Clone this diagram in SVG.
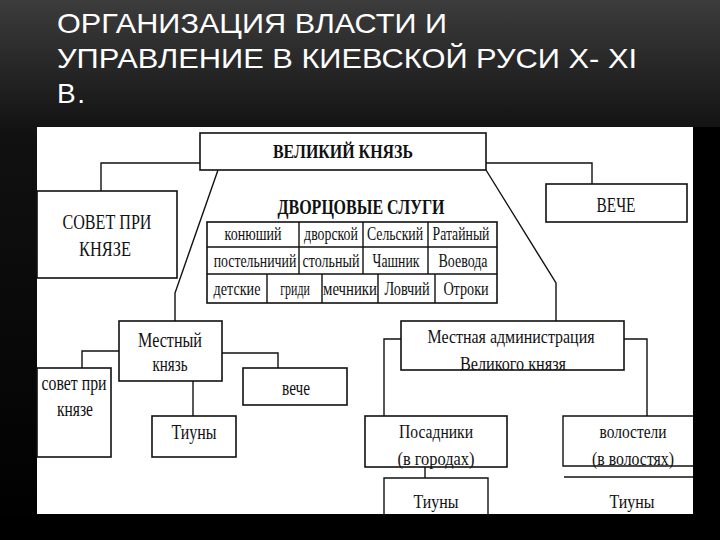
<svg xmlns="http://www.w3.org/2000/svg" width="720" height="540" viewBox="0 0 720 540">
<defs>
<linearGradient id="bg" x1="0" y1="0" x2="0" y2="1">
<stop offset="0" stop-color="#3c3c3c"/>
<stop offset="0.25" stop-color="#111"/>
<stop offset="1" stop-color="#000"/>
</linearGradient>
</defs>
<style>
.title{font-family:"Liberation Sans",Arial,sans-serif;font-size:28px;fill:#fff}
.box{fill:#fff;stroke:#111;stroke-width:1.6}
.ln{fill:none;stroke:#111;stroke-width:1.4}
.t{font-family:"Liberation Serif","Times New Roman",serif;fill:#111;text-anchor:middle}
.b{font-weight:bold}
.s21{font-size:21px}
.s20{font-size:20px}
.s19{font-size:19px}
.s18{font-size:18px}
</style>
<rect x="0" y="0" width="720" height="540" fill="url(#bg)"/>
<g id="title">
<text class="title" x="57" y="33" textLength="390" lengthAdjust="spacingAndGlyphs">ОРГАНИЗАЦИЯ ВЛАСТИ И</text>
<text class="title" x="57" y="68" textLength="580" lengthAdjust="spacingAndGlyphs">УПРАВЛЕНИЕ В КИЕВСКОЙ РУСИ X- XI</text>
<text class="title" x="57" y="103" textLength="28" lengthAdjust="spacing">В.</text>
</g>
<rect id="panel" x="37" y="127" width="656" height="387" fill="#fff"/>
<g id="connectors">
<polyline class="ln" points="200,163 101,163 101,191"/>
<polyline class="ln" points="218,170 175,293 175,321"/>
<polyline class="ln" points="486,163 592,163 592,184"/>
<polyline class="ln" points="486,170 556,283 556,321"/>
<polyline class="ln" points="119,351 82,351 82,368"/>
<polyline class="ln" points="222,353 278,353 278,368"/>
<polyline class="ln" points="193,381 193,416"/>
<polyline class="ln" points="401,339 384,339 384,416"/>
<polyline class="ln" points="624,339 647,339 647,416"/>
<polyline class="ln" points="425,467 425,478"/>
</g>
<g id="velikiy-knyaz">
<rect class="box" x="200" y="133" width="286" height="37" stroke-width="2.4"/>
<text class="t b s18" x="343" y="158" textLength="140" lengthAdjust="spacingAndGlyphs">ВЕЛИКИЙ КНЯЗЬ</text>
</g>
<g id="sovet">
<rect class="box" x="37" y="191" width="140" height="87"/>
<text class="t s21" x="107" y="229" textLength="89" lengthAdjust="spacingAndGlyphs">СОВЕТ ПРИ</text>
<text class="t s21" x="105" y="256" textLength="52" lengthAdjust="spacingAndGlyphs">КНЯЗЕ</text>
</g>
<g id="veche">
<rect class="box" x="546" y="184" width="141" height="38"/>
<text class="t s20" x="616" y="212" textLength="39" lengthAdjust="spacingAndGlyphs">ВЕЧЕ</text>
</g>
<g id="dvortsovye-slugi">
<text class="t b s20" x="361" y="214" textLength="167" lengthAdjust="spacingAndGlyphs">ДВОРЦОВЫЕ СЛУГИ</text>
<rect class="box" x="207" y="222" width="290" height="81"/>
<path class="ln" d="M207 247H497M207 274H497M299 222V274M363 222V274M428 222V274M267 274V303M322 274V303M378 274V303M435 274V303"/>
<text class="t s18" transform="translate(253,240) scale(0.78,1)" textLength="73" lengthAdjust="spacingAndGlyphs">конюший</text>
<text class="t s18" transform="translate(331,240) scale(0.78,1)" textLength="69" lengthAdjust="spacingAndGlyphs">дворской</text>
<text class="t s18" transform="translate(395,240) scale(0.78,1)" textLength="72" lengthAdjust="spacingAndGlyphs">Сельский</text>
<text class="t s18" transform="translate(461,240) scale(0.78,1)" textLength="73" lengthAdjust="spacingAndGlyphs">Ратайный</text>
<text class="t s18" transform="translate(255,267) scale(0.78,1)" textLength="106" lengthAdjust="spacingAndGlyphs">постельничий</text>
<text class="t s18" transform="translate(331,267) scale(0.78,1)" textLength="73" lengthAdjust="spacingAndGlyphs">стольный</text>
<text class="t s18" transform="translate(396,267) scale(0.78,1)" textLength="60" lengthAdjust="spacingAndGlyphs">Чашник</text>
<text class="t s18" transform="translate(463,267) scale(0.78,1)" textLength="63" lengthAdjust="spacingAndGlyphs">Воевода</text>
<text class="t s18" transform="translate(237,295) scale(0.78,1)" textLength="60" lengthAdjust="spacingAndGlyphs">детские</text>
<text class="t s18" transform="translate(295,295) scale(0.78,1)" textLength="38" lengthAdjust="spacingAndGlyphs">гриди</text>
<text class="t s18" transform="translate(350,295) scale(0.78,1)" textLength="69" lengthAdjust="spacingAndGlyphs">мечники</text>
<text class="t s18" transform="translate(407,295) scale(0.78,1)" textLength="58" lengthAdjust="spacingAndGlyphs">Ловчий</text>
<text class="t s18" transform="translate(466,295) scale(0.78,1)" textLength="58" lengthAdjust="spacingAndGlyphs">Отроки</text>
</g>
<g id="mestnyy-knyaz">
<rect class="box" x="119" y="321" width="103" height="60"/>
<text class="t s21" x="170" y="347" textLength="64" lengthAdjust="spacingAndGlyphs">Местный</text>
<text class="t s21" x="170" y="371" textLength="35" lengthAdjust="spacingAndGlyphs">князь</text>
</g>
<g id="sovet-mestnyy">
<rect class="box" x="37" y="368" width="74" height="89"/>
<text class="t s20" x="74" y="390" textLength="65" lengthAdjust="spacingAndGlyphs">совет при</text>
<text class="t s20" x="75" y="416" textLength="36" lengthAdjust="spacingAndGlyphs">князе</text>
</g>
<g id="veche-mestnoe">
<rect class="box" x="243" y="368" width="104" height="37"/>
<text class="t s20" x="296" y="395" textLength="28" lengthAdjust="spacingAndGlyphs">вече</text>
</g>
<g id="tiuny-mestnye">
<rect class="box" x="152" y="416" width="84" height="41"/>
<text class="t s20" x="194" y="439" textLength="45" lengthAdjust="spacingAndGlyphs">Тиуны</text>
</g>
<g id="mestnaya-administratsiya">
<rect class="box" x="401" y="321" width="223" height="49"/>
<text class="t s19" x="511" y="343" textLength="167" lengthAdjust="spacingAndGlyphs">Местная администрация</text>
<text class="t s19" x="513" y="370" textLength="106" lengthAdjust="spacingAndGlyphs">Великого князя</text>
</g>
<g id="posadniki">
<rect class="box" x="365" y="416" width="142" height="51"/>
<text class="t s19" x="436" y="438" textLength="74" lengthAdjust="spacingAndGlyphs">Посадники</text>
<text class="t s19" x="436" y="465" textLength="77" lengthAdjust="spacingAndGlyphs">(в городах)</text>
</g>
<g id="volosteli">
<path class="ln" d="M693 416H563V466H693"/>
<text class="t s19" x="633" y="438" textLength="67" lengthAdjust="spacingAndGlyphs">волостели</text>
<text class="t s19" x="633" y="465" textLength="82" lengthAdjust="spacingAndGlyphs">(в волостях)</text>
</g>
<g id="tiuny-posadniki">
<path class="ln" d="M384 514V478H488V514"/>
<text class="t s19" x="436" y="508" textLength="45" lengthAdjust="spacingAndGlyphs">Тиуны</text>
</g>
<g id="tiuny-volosteli">
<path class="ln" d="M564 477H693"/>
<text class="t s19" x="632" y="508" textLength="45" lengthAdjust="spacingAndGlyphs">Тиуны</text>
</g>
<rect x="693" y="127" width="27" height="413" fill="#000"/>
<rect x="0" y="514" width="720" height="26" fill="#000"/>
</svg>
